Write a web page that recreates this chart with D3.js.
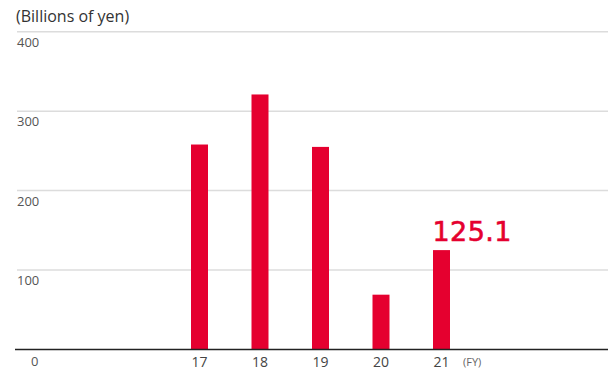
<!DOCTYPE html>
<html>
<head>
<meta charset="utf-8">
<script src="https://cdn.jsdelivr.net/npm/d3@7"></script>
<style>
  body { margin: 0; background: #fff; }
  svg { display: block; font-family: "Open Sans", "Noto Sans", sans-serif; }
</style>
</head>
<body>
<div id="root"></div>
<script>
const w = 608;
const h = 373;

const years = ["17", "18", "19", "20", "21"];
const values = [258, 321, 255, 69, 125.1];
const yTicks = [0, 100, 200, 300, 400];
const red = "#e5002f";

const xScale = d3.scalePoint()
    .domain(years)
    .range([199.5, 441.5]);

const yScale = d3.scaleLinear()
    .domain([0, 400])
    .range([349.5, 31.7]);

const svg = d3.select("#root")
    .append("svg")
    .attr("width", w)
    .attr("height", h);

// unit title
svg.append("text")
    .attr("x", 16)
    .attr("y", 22)
    .style("font-size", "16px")
    .style("fill", "#333")
    .text("(Billions of yen)");

// gridlines
svg.selectAll(".grid")
    .data(yTicks.filter(d => d > 0))
    .enter()
    .append("line")
    .attr("x1", 17)
    .attr("x2", w)
    .attr("y1", d => yScale(d))
    .attr("y2", d => yScale(d))
    .attr("stroke", "#dcdcdc")
    .attr("stroke-width", 1.5);

// y tick labels (under each line)
svg.selectAll(".ylab")
    .data(yTicks)
    .enter()
    .append("text")
    .attr("x", d => d === 0 ? 31 : 17)
    .attr("y", d => yScale(d) + (d === 0 ? 16 : 15))
    .style("font-size", "13px")
    .style("fill", "#555")
    .text(d => d);

// bars
svg.selectAll(".bar")
    .data(values)
    .enter()
    .append("rect")
    .attr("x", (d, i) => xScale(years[i]) - 8.5)
    .attr("y", d => yScale(d))
    .attr("width", 17)
    .attr("height", d => yScale(0) - yScale(d))
    .attr("fill", red);

// baseline
svg.append("line")
    .attr("x1", 15)
    .attr("x2", w)
    .attr("y1", yScale(0))
    .attr("y2", yScale(0))
    .attr("stroke", "#222")
    .attr("stroke-width", 1.5);

// x labels
svg.selectAll(".xlab")
    .data(years)
    .enter()
    .append("text")
    .attr("x", d => xScale(d))
    .attr("y", 367)
    .attr("text-anchor", "middle")
    .style("font-size", "14px")
    .style("fill", "#444")
    .text(d => d);

svg.append("text")
    .attr("x", 463)
    .attr("y", 366)
    .style("font-size", "11px")
    .style("fill", "#666")
    .text("(FY)");

// value label on last bar
const last = values.length - 1;
svg.append("text")
    .attr("x", xScale(years[last]) - 9)
    .attr("y", yScale(values[last]) - 9)
    .style("font-family", "'DejaVu Sans', sans-serif")
    .style("font-size", "27px")
    .style("letter-spacing", "0.4px")
    .style("stroke", red)
    .style("stroke-width", "0.6px")
    .style("fill", red)
    .text(values[last].toFixed(1));
</script>
</body>
</html>
